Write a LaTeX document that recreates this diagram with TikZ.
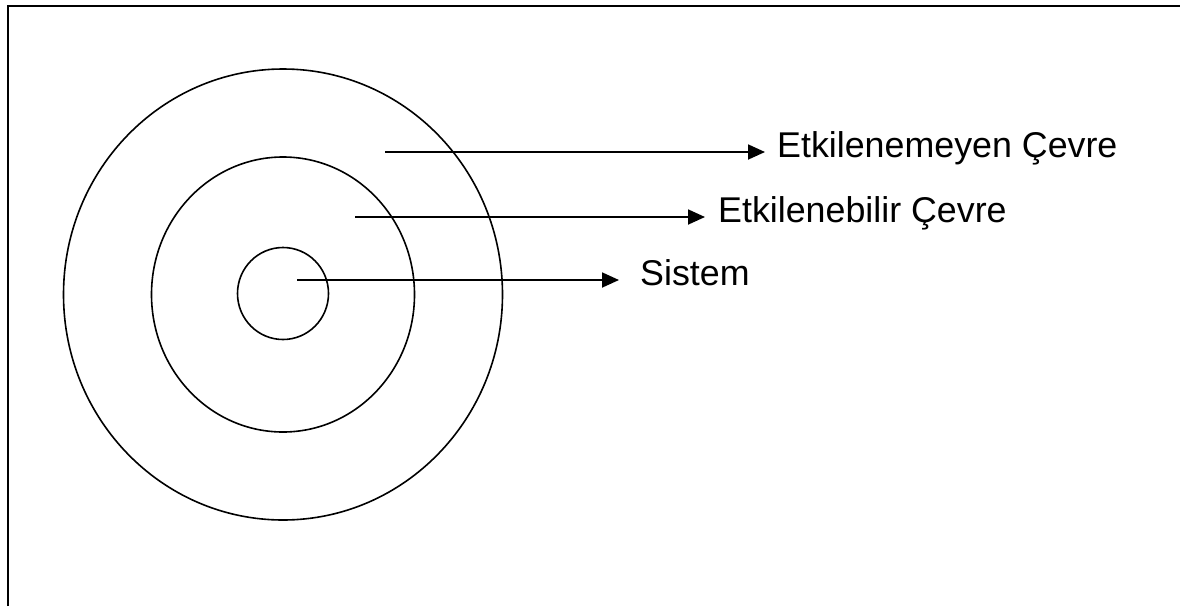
\documentclass[tikz,border=0pt]{standalone}
\usepackage{fontspec}
\setmainfont{Liberation Sans}
\usetikzlibrary{shapes.geometric,arrows.meta}
\begin{document}
\begin{tikzpicture}[x=1pt,y=-1pt,
  frame/.style={line width=2pt},
  ring/.style={ellipse,draw,line width=1.6pt,inner sep=0pt,outer sep=0pt},
  pointer/.style={line width=1.8pt,-{Triangle[length=17pt,width=15pt]}},
  lbl/.style={anchor=base west,inner sep=0pt,font=\fontsize{35.8}{43}\selectfont}]
\useasboundingbox (0,0) rectangle (1180,606);
% page frame (top and left edges)
\draw[frame] (8,606) -- (8,6) -- (1180,6);
% concentric regions
\node[ring,minimum width=439pt,minimum height=451pt] (outer) at (283,294.5) {};
\node[ring,minimum width=263pt,minimum height=275pt] (middle) at (283,294.5) {};
\node[ring,minimum width=91pt,minimum height=92pt] (inner) at (283,293.5) {};
% arrow start points and tips
\coordinate (s1) at (385,152);
\coordinate (t1) at (765,152);
\coordinate (s2) at (355,217);
\coordinate (t2) at (705,217);
\coordinate (s3) at (297,280);
\coordinate (t3) at (619,280);
% labels
\node[lbl] (l1) at (777,157) {Etkilenemeyen Çevre};
\node[lbl] (l2) at (718,222) {Etkilenebilir Çevre};
\node[lbl] (l3) at (640,285) {Sistem};
% pointers
\draw[pointer] (s1) -- (t1);
\draw[pointer] (s2) -- (t2);
\draw[pointer] (s3) -- (t3);
\end{tikzpicture}
\end{document}
